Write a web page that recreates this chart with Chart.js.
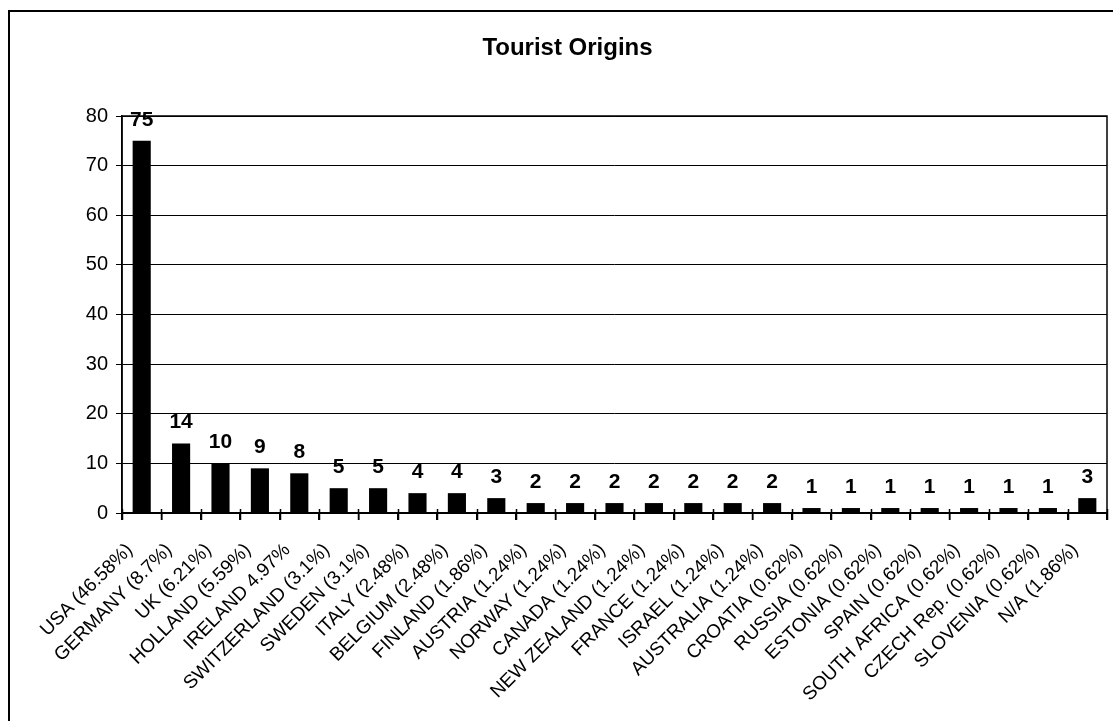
<!DOCTYPE html>
<html>
<head>
<meta charset="utf-8">
<title>Tourist Origins</title>
<script src="https://cdn.jsdelivr.net/npm/chart.js@4.4.1/dist/chart.umd.min.js"></script>
<style>
  html, body { margin: 0; padding: 0; background: #ffffff; }
  #wrap { width: 1113px; height: 721px; }
</style>
</head>
<body>
<div id="wrap"><canvas id="chart" width="1113" height="721"></canvas></div>
<script>
// Tourist counts by country of origin
const countries = [
  'USA (46.58%)', 'GERMANY (8.7%)', 'UK (6.21%)', 'HOLLAND (5.59%)', 'IRELAND 4.97%',
  'SWITZERLAND (3.1%)', 'SWEDEN (3.1%)', 'ITALY (2.48%)', 'BELGIUM (2.48%)', 'FINLAND (1.86%)',
  'AUSTRIA (1.24%)', 'NORWAY (1.24%)', 'CANADA (1.24%)', 'NEW ZEALAND (1.24%)', 'FRANCE (1.24%)',
  'ISRAEL (1.24%)', 'AUSTRALIA (1.24%)', 'CROATIA (0.62%)', 'RUSSIA (0.62%)', 'ESTONIA (0.62%)',
  'SPAIN (0.62%)', 'SOUTH AFRICA (0.62%)', 'CZECH Rep. (0.62%)', 'SLOVENIA (0.62%)', 'N/A (1.86%)'
];
const tourists = [75, 14, 10, 9, 8, 5, 5, 4, 4, 3, 2, 2, 2, 2, 2, 2, 2, 1, 1, 1, 1, 1, 1, 1, 3];
const yTicks = [0, 10, 20, 30, 40, 50, 60, 70, 80];

const FONT = "'Liberation Sans', Arial, Helvetica, sans-serif";

// Outer frame, plot border, small tick stubs across the axis, and value labels
const decorations = {
  id: 'decorations',
  afterDatasetsDraw(chart) {
    const ctx = chart.ctx;
    const meta = chart.getDatasetMeta(0);
    ctx.save();
    ctx.fillStyle = '#000';
    ctx.font = "bold 21px " + FONT;
    ctx.textAlign = 'center';
    ctx.textBaseline = 'middle';
    meta.data.forEach((bar, i) => {
      ctx.fillText(String(tourists[i]), bar.x, bar.y - 21);
    });
    ctx.restore();
  },
  afterDraw(chart) {
    const ctx = chart.ctx;
    const a = chart.chartArea;
    ctx.save();
    ctx.strokeStyle = '#000';
    // plot border
    ctx.lineWidth = 1.5;
    ctx.strokeRect(a.left, a.top, a.right - a.left, a.bottom - a.top);
    // baseline
    ctx.lineWidth = 2;
    ctx.beginPath();
    ctx.moveTo(a.left, a.bottom);
    ctx.lineTo(a.right, a.bottom);
    ctx.stroke();
    // tick stubs crossing the baseline
    ctx.lineWidth = 1.5;
    const step = (a.right - a.left) / countries.length;
    for (let i = 0; i <= countries.length; i++) {
      const x = Math.round(a.left + i * step) + 0.5;
      ctx.beginPath();
      ctx.moveTo(x, a.bottom - 4);
      ctx.lineTo(x, a.bottom + 7);
      ctx.stroke();
    }
    // outer frame
    ctx.lineWidth = 2;
    ctx.beginPath();
    ctx.moveTo(9, 721);
    ctx.lineTo(9, 11);
    ctx.lineTo(1113, 11);
    ctx.stroke();
    ctx.restore();
  }
};

new Chart(document.getElementById('chart'), {
  type: 'bar',
  data: {
    labels: countries,
    datasets: [{
      data: tourists,
      backgroundColor: '#000000',
      borderWidth: 0,
      categoryPercentage: 1.0,
      barPercentage: 0.46
    }]
  },
  options: {
    responsive: false,
    animation: false,
    devicePixelRatio: 1,
    layout: { padding: { left: 28, right: 6, top: 0, bottom: 0 } },
    plugins: {
      legend: { display: false },
      tooltip: { enabled: false },
      title: {
        display: true,
        text: 'Tourist Origins',
        color: '#000',
        font: { family: FONT, size: 24, weight: 'bold', lineHeight: 1.2 },
        padding: { top: 34, bottom: 53.2 }
      }
    },
    scales: {
      y: {
        min: 0,
        max: 80,
        afterBuildTicks(scale) {
          scale.ticks = yTicks.map(v => ({ value: v }));
        },
        afterFit(scale) { scale.width = 94; },
        border: { display: true, color: '#000', width: 1.5 },
        grid: {
          color: '#000',
          lineWidth: 1,
          drawTicks: true,
          tickLength: 6,
          tickColor: '#000'
        },
        ticks: {
          color: '#000',
          padding: 8,
          font: { family: FONT, size: 20 }
        }
      },
      x: {
        afterFit(scale) {
          scale.height = 208;
          scale.paddingLeft = 0;
          scale.paddingRight = 0;
        },
        border: { display: true, color: '#000', width: 2 },
        grid: {
          offset: true,
          drawOnChartArea: false,
          drawTicks: true,
          tickLength: 7,
          color: '#000',
          lineWidth: 1.5
        },
        ticks: {
          color: '#000',
          autoSkip: false,
          maxRotation: 45,
          minRotation: 45,
          padding: 19,
          labelOffset: -12,
          font: { family: FONT, size: 19 }
        }
      }
    }
  },
  plugins: [decorations]
});
</script>
</body>
</html>
